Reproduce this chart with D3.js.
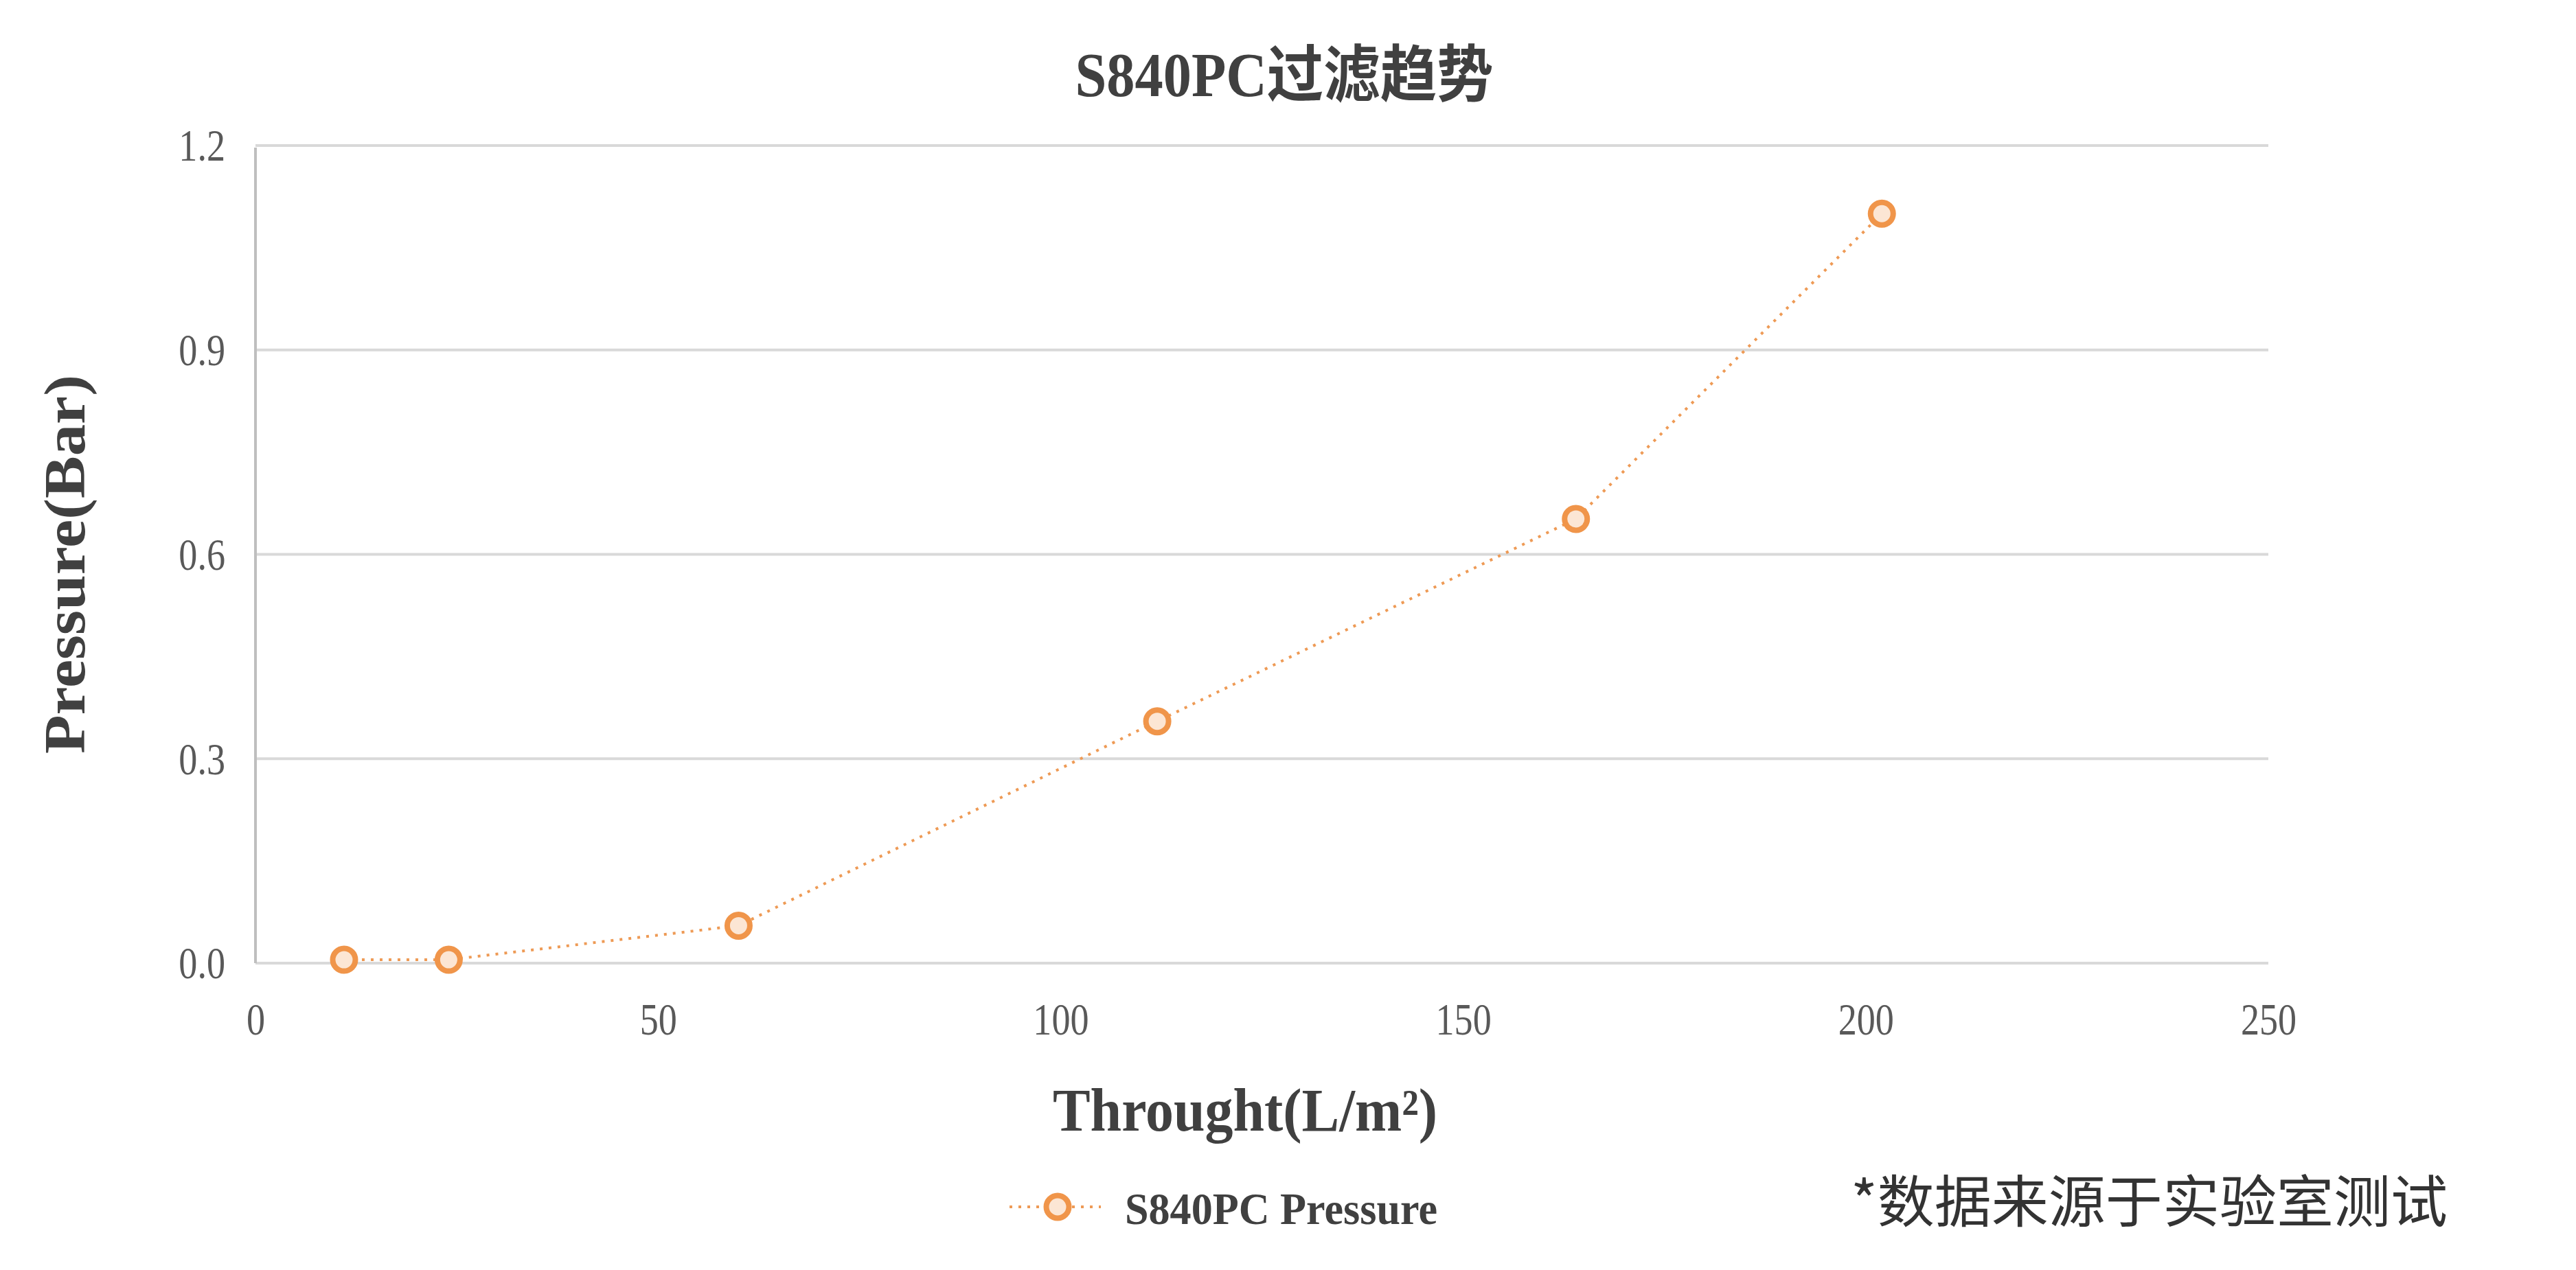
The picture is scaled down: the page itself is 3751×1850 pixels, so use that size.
<!DOCTYPE html>
<html><head><meta charset="utf-8">
<script src="https://cdn.jsdelivr.net/npm/d3@7"></script>
<style>html,body{margin:0;padding:0;background:#fff;} svg{display:block}</style>
</head><body>
<svg id="chart" width="3751" height="1850"></svg>
<script>
const throughput = [11, 24, 60, 112, 164, 202];
const pressure = [0.005, 0.005, 0.055, 0.355, 0.652, 1.1];
const xTicks = [0, 50, 100, 150, 200, 250];
const yTicks = [0.0, 0.3, 0.6, 0.9, 1.2];
const seriesName = "S840PC Pressure";
const chartTitle = "S840PC过滤趋势";
const xTitle = "Throught(L/m²)";
const yTitle = "Pressure(Bar)";
const footnote = "*数据来源于实验室测试";

const W = 3751, H = 1850;
const plot = {left: 372, right: 3303, top: 212, bottom: 1403};
const serif = "'Liberation Serif','Times New Roman','Noto Sans CJK SC',serif";
const lineColor = "#EE9A55";
const markerColor = "#F0954A";
const markerFill = "#FCE6D4";

const svg = d3.select("#chart");
svg.append("rect").attr("width", W).attr("height", H).attr("fill", "#fff");

const x = d3.scaleLinear().domain([0, 250]).range([plot.left, plot.right]);
const y = d3.scaleLinear().domain([0, 1.2]).range([plot.bottom, plot.top]);

function fitWidth(sel, width) {
  sel.attr("textLength", width).attr("lengthAdjust", "spacingAndGlyphs");
}
function condense(sel, factor) {
  sel.each(function() {
    const w = this.getComputedTextLength();
    this.setAttribute("textLength", w * factor);
    this.setAttribute("lengthAdjust", "spacingAndGlyphs");
  });
}

// gridlines
svg.append("g").selectAll("line").data(yTicks).join("line")
  .attr("x1", plot.left).attr("x2", plot.right)
  .attr("y1", d => y(d)).attr("y2", d => y(d))
  .attr("stroke", "#d9d9d9").attr("stroke-width", 4);

// y axis
const yAxis = svg.append("g").attr("transform", `translate(${plot.left},0)`)
  .call(d3.axisLeft(y).tickValues(yTicks).tickFormat(d3.format(".1f")).tickSize(0).tickPadding(44));
yAxis.select(".domain").attr("stroke", "#bfbfbf").attr("stroke-width", 4)
  .attr("d", `M0,${plot.top + 3}V${plot.bottom}`);
yAxis.selectAll("text").attr("font-family", serif).attr("font-size", 66)
  .attr("fill", "#595959").attr("dy", "0.33em");
condense(yAxis.selectAll("text"), 0.82);

// x axis
const xAxis = svg.append("g").attr("transform", `translate(0,${plot.bottom})`)
  .call(d3.axisBottom(x).tickValues(xTicks).tickFormat(d3.format("d")).tickSize(0).tickPadding(0));
xAxis.select(".domain").remove();
xAxis.selectAll("text").attr("font-family", serif).attr("font-size", 66)
  .attr("fill", "#595959").attr("y", 104).attr("dy", 0);
condense(xAxis.selectAll("text"), 0.82);

// line
const pts = throughput.map((t, i) => [t, pressure[i]]);
svg.append("path").datum(pts)
  .attr("d", d3.line().x(d => x(d[0])).y(d => y(d[1])))
  .attr("fill", "none").attr("stroke", lineColor).attr("stroke-width", 4)
  .attr("stroke-dasharray", "4,9");

// markers
svg.append("g").selectAll("circle").data(pts).join("circle")
  .attr("cx", d => x(d[0])).attr("cy", d => y(d[1])).attr("r", 16.5)
  .attr("fill", markerFill).attr("stroke", markerColor).attr("stroke-width", 8);

// title
svg.append("text").attr("x", 1870).attr("y", 140).attr("text-anchor", "middle")
  .attr("font-family", serif).attr("font-weight", "bold").attr("font-size", 90)
  .attr("fill", "#404040").text(chartTitle).call(fitWidth, 609);

// x title
svg.append("text").attr("x", 1813).attr("y", 1647).attr("text-anchor", "middle")
  .attr("font-family", serif).attr("font-weight", "bold").attr("font-size", 88)
  .attr("fill", "#404040").text(xTitle).call(fitWidth, 560);

// y title
svg.append("text").attr("transform", "translate(123,822) rotate(-90)").attr("text-anchor", "middle")
  .attr("font-family", serif).attr("font-weight", "bold").attr("font-size", 84)
  .attr("fill", "#404040").text(yTitle).call(fitWidth, 552);

// legend
const lg = svg.append("g");
lg.append("line").attr("x1", 1470).attr("x2", 1603).attr("y1", 1758).attr("y2", 1758)
  .attr("stroke", lineColor).attr("stroke-width", 4).attr("stroke-dasharray", "4,9");
lg.append("circle").attr("cx", 1540).attr("cy", 1758).attr("r", 16.5)
  .attr("fill", markerFill).attr("stroke", markerColor).attr("stroke-width", 8);
lg.append("text").attr("x", 1638).attr("y", 1783)
  .attr("font-family", serif).attr("font-weight", "bold").attr("font-size", 66)
  .attr("fill", "#404040").text(seriesName).call(fitWidth, 455);

// footnote
svg.append("text").attr("x", 2695).attr("y", 1780)
  .attr("font-family", "'Noto Sans CJK SC','Noto Sans',sans-serif").attr("font-size", 82)
  .attr("fill", "#333333").text(footnote).call(fitWidth, 869);
</script>
</body></html>
